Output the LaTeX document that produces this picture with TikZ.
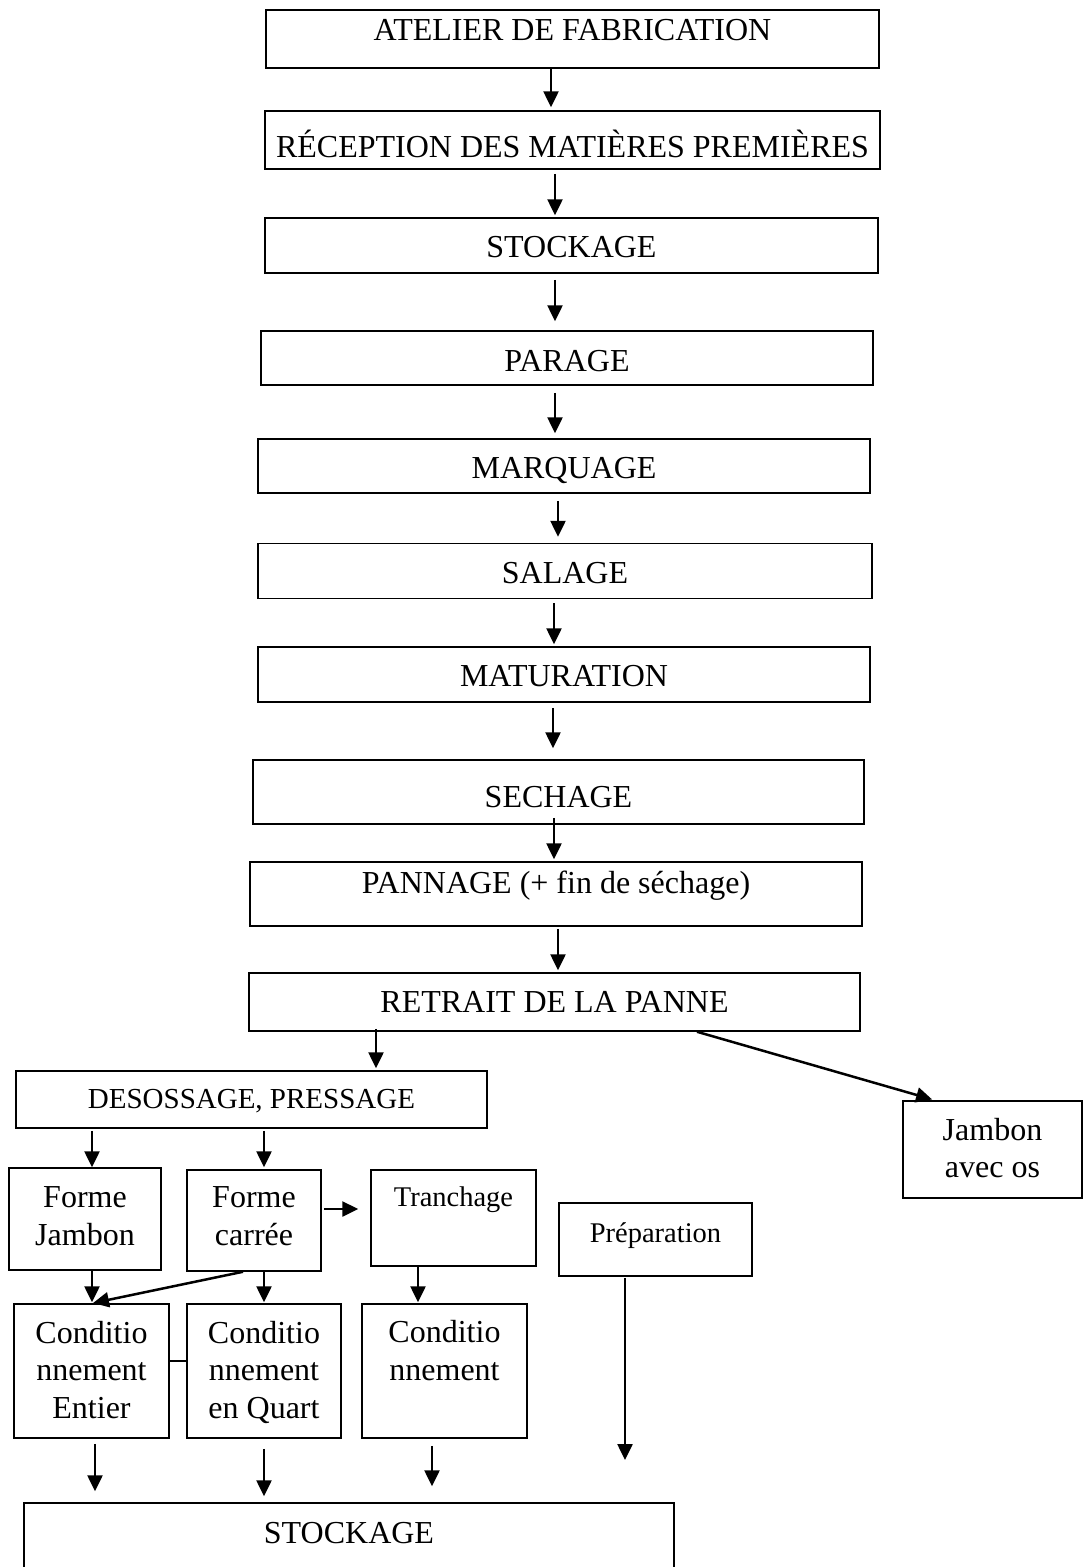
\documentclass[tikz,border=0pt]{standalone}
\usepackage{fontspec}
\setmainfont{Liberation Serif}
\usetikzlibrary{arrows.meta}
\newcommand\fza{\fontsize{32}{37.5}\selectfont}
\newcommand\fzb{\fontsize{29}{34}\selectfont}
\newcommand\fzc{\fontsize{28.5}{34}\selectfont}
\tikzset{
  box/.style={draw, rectangle, line width=1.5pt, inner sep=0pt, align=center, font=\fza},
  up/.style={text height=0pt, text depth=#1},
  dn/.style={text height=#1, text depth=0pt},
  arr/.style={line width=2.5pt, -{Triangle[length=16pt,width=15pt]}},
  plain/.style={line width=2.5pt}
}
\begin{document}
\begin{tikzpicture}[x=1pt,y=-1pt]
\useasboundingbox (0,0) rectangle (1083,1567);
\clip (0,0) rectangle (1083,1567);
% boxes
\node[box, minimum width=613pt, minimum height=58pt, dn=2pt] (atelier) at (572.5,39) {ATELIER DE FABRICATION};
\node[box, minimum width=615pt, minimum height=58pt, dn=34pt] (reception) at (572.5,140) {RÉCEPTION DES MATIÈRES PREMIÈRES};
\node[box, minimum width=613pt, minimum height=55pt, dn=23pt] (stock1) at (571.5,245.5) {STOCKAGE};
\node[box, minimum width=612pt, minimum height=54pt, dn=26pt] (parage) at (567,358) {PARAGE};
\node[box, minimum width=612pt, minimum height=54pt, dn=24pt] (marquage) at (564,466) {MARQUAGE};
\node[box, minimum width=614pt, minimum height=55pt, dn=24pt] (salage) at (565,571) {SALAGE};
\node[box, minimum width=612pt, minimum height=55pt, dn=23pt] (maturation) at (564,674.5) {MATURATION};
\node[box, minimum width=611pt, minimum height=64pt, dn=30pt] (sechage) at (558.5,792) {SECHAGE};
\node[box, minimum width=612pt, minimum height=64pt, up=2pt] (pannage) at (556,894) {PANNAGE (+ fin de séchage)};
\node[box, minimum width=611pt, minimum height=58pt, dn=20pt] (retrait) at (554.5,1002) {RETRAIT DE LA PANNE};
\node[box, font=\fzb, minimum width=471pt, minimum height=57pt, dn=17pt] (desossage) at (251.5,1099.5) {DESOSSAGE, PRESSAGE};
\node[box, font=\fontsize{32}{37}\selectfont, minimum width=179pt, minimum height=97pt, dn=55pt] (jambonos) at (992.5,1149.5) {Jambon\\avec os};
\node[box, font=\fontsize{32}{38}\selectfont, minimum width=152pt, minimum height=102pt, dn=52pt] (formejambon) at (85,1219) {Forme\\Jambon};
\node[box, font=\fontsize{32}{38}\selectfont, minimum width=134pt, minimum height=101pt, dn=49pt] (formecarree) at (254,1220.5) {Forme\\carrée};
\node[box, font=\fzc, minimum width=165pt, minimum height=96pt, up=24pt] (tranchage) at (453.5,1218) {Tranchage};
\node[box, font=\fzc, minimum width=193pt, minimum height=73pt, dn=5pt] (preparation) at (655.5,1239.5) {Préparation};
\node[box, minimum width=155pt, minimum height=134pt, dn=94pt] (condentier) at (91.5,1371) {Conditio\\nnement\\Entier};
\node[box, minimum width=154pt, minimum height=134pt, dn=94pt] (condquart) at (264,1371) {Conditio\\nnement\\en Quart};
\node[box, minimum width=165pt, minimum height=134pt, dn=18pt] (condtr) at (444.5,1371) {Conditio\\nnement};
\node[box, minimum width=650pt, minimum height=100pt, up=20pt] (stock2) at (349,1553) {STOCKAGE};
\coordinate (prepend) at (625,1460);
% connectors
\draw[arr, shorten >=3pt] (atelier.south -| 551,0) -- (reception.north -| 551,0);
\draw[arr, shorten <=4pt, shorten >=2pt] (reception.south -| 555,0) -- (stock1.north -| 555,0);
\draw[arr, shorten <=6pt, shorten >=9pt] (stock1.south -| 555,0) -- (parage.north -| 555,0);
\draw[arr, shorten <=7pt, shorten >=5pt] (parage.south -| 555,0) -- (marquage.north -| 555,0);
\draw[arr, shorten <=7pt, shorten >=6pt] (marquage.south -| 558,0) -- (salage.north -| 558,0);
\draw[arr, shorten <=4pt, shorten >=2pt] (salage.south -| 554,0) -- (maturation.north -| 554,0);
\draw[arr, shorten <=5pt, shorten >=11pt] (maturation.south -| 553,0) -- (sechage.north -| 553,0);
\draw[arr, shorten <=-7pt, shorten >=2pt] (sechage.south -| 554,0) -- (pannage.north -| 554,0);
\draw[arr, shorten <=2pt, shorten >=2pt] (pannage.south -| 558,0) -- (retrait.north -| 558,0);
\draw[arr, shorten <=-3pt, shorten >=2pt] (retrait.south -| 376,0) -- (desossage.north -| 376,0);
\draw[arr, shorten >=3pt] (retrait.south -| 697,0) -- (jambonos.north -| 935,0);
\draw[arr, shorten <=2pt] (desossage.south -| 92,0) -- (formejambon.north -| 92,0);
\draw[arr, shorten <=2pt, shorten >=2pt] (desossage.south -| 264,0) -- (formecarree.north -| 264,0);
\draw[arr, shorten <=2pt, shorten >=12pt] (formecarree.east |- 0,1209) -- (tranchage.west |- 0,1209);
\draw[arr, shorten >=1pt] (formejambon.south -| 92,0) -- (condentier.north -| 92,0);
\draw[arr, shorten >=1pt] (formecarree.south -| 264,0) -- (condquart.north -| 264,0);
\draw[arr, shorten >=1pt] (tranchage.south -| 418,0) -- (condtr.north -| 418,0);
\draw[arr, shorten >=1pt] (formecarree.south -| 243,0) -- (condentier.north -| 92,0);
\draw[plain] (condentier.east |- 0,1361) -- (condquart.west |- 0,1361);
\draw[arr, shorten <=5pt, shorten >=11pt] (condentier.south -| 95,0) -- (stock2.north -| 95,0);
\draw[arr, shorten <=10pt, shorten >=6pt] (condquart.south -| 264,0) -- (stock2.north -| 264,0);
\draw[arr, shorten <=7pt, shorten >=16pt] (condtr.south -| 432,0) -- (stock2.north -| 432,0);
\draw[arr, shorten <=1pt] (preparation.south -| 625,0) -- (prepend);
\end{tikzpicture}
\end{document}
